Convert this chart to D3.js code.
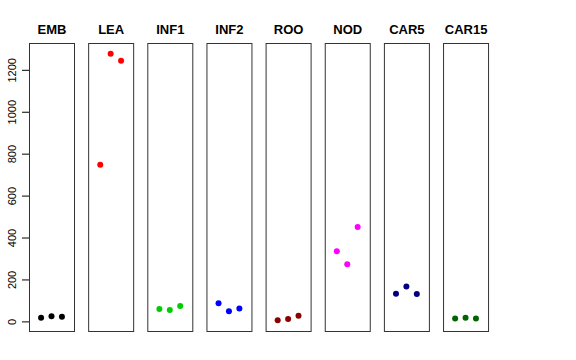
<!DOCTYPE html>
<html><head><meta charset="utf-8">
<script src="https://cdn.jsdelivr.net/npm/d3@7"></script>
<style>body{margin:0;background:#fff}svg{display:block}</style>
</head><body>
<script>
const categories = ["EMB","LEA","INF1","INF2","ROO","NOD","CAR5","CAR15"];
const colors = ["#000000","#FF0000","#00CD00","#0000FF","#8B0000","#FF00FF","#000080","#006400"];
const values = [
  [17, 24, 22],
  [747, 1277, 1243],
  [59, 54, 73],
  [86, 48, 62],
  [5, 11, 27],
  [335, 273, 450],
  [132, 166, 131],
  [14, 17, 14]
];
const yTicks = [0, 200, 400, 600, 800, 1000, 1200];

(function(){
const W = 576, H = 360;
const svg = d3.select("body").append("svg").attr("width", W).attr("height", H);

const all = values.flat();
const lo = d3.min(all), hi = d3.max(all), pad = (hi - lo) * 0.04;
const pTop = 43, pBottom = 331;
const y = d3.scaleLinear().domain([lo - pad, hi + pad]).range([pBottom, pTop]);

const step = 59.15, bw = 45;
const panelX = d3.scaleBand().domain(categories).range([29, 29 + step * 7 + bw])
  .paddingInner((step - bw) / step).paddingOuter(0);
const pw = panelX.bandwidth();
const x = d3.scaleLinear().domain([-0.16, 4.16]).range([0, pw]);

// y axis
const ax = svg.append("g").attr("transform", `translate(${panelX(categories[0])},0)`)
  .call(d3.axisLeft(y).tickValues(yTicks).tickFormat(d3.format("d")).tickSize(7).tickPadding(5));
ax.select(".domain").remove();
ax.selectAll(".tick line").attr("stroke", "#000");
ax.selectAll(".tick text")
  .attr("font-family", "Liberation Sans, Arial, sans-serif").attr("font-size", 11).attr("fill", "#000")
  .attr("text-anchor", "middle").attr("x", 0).attr("y", 0).attr("dy", 0)
  .attr("transform", "translate(-13,0) rotate(-90)");

categories.forEach((c, i) => {
  const g = svg.append("g").attr("transform", `translate(${panelX(c)},0)`);
  g.append("rect").attr("x", 0.5).attr("y", pTop + 0.5).attr("width", pw).attr("height", pBottom - pTop)
    .attr("fill", "none").attr("stroke", "#333").attr("stroke-width", 1);
  g.append("text").attr("x", pw / 2 + 0.5).attr("y", 34).attr("text-anchor", "middle")
    .attr("font-family", "Liberation Sans, Arial, sans-serif").attr("font-weight", "bold").attr("font-size", 13)
    .text(c);
  g.selectAll("circle").data(values[i]).join("circle")
    .attr("cx", (d, j) => x(j + 1)).attr("cy", d => y(d)).attr("r", 3)
    .attr("fill", colors[i]);
});
})();
</script>
</body></html>
